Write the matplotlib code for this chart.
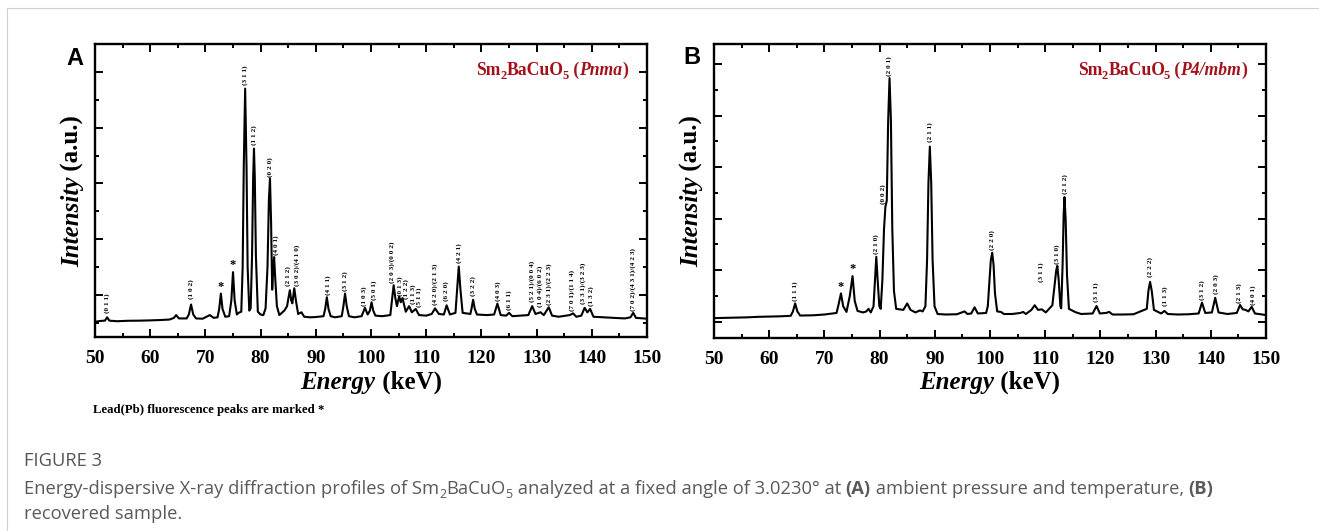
import matplotlib.pyplot as plt
from matplotlib.ticker import MultipleLocator
from matplotlib.transforms import IdentityTransform
from matplotlib.lines import Line2D

# ---- panel A : Sm2BaCuO5 (Pnma), trace ----
a_energy = [50.0, 51.0, 51.8, 52.2, 52.6, 54.0, 56.0, 58.0, 60.0, 62.0,
            63.5, 64.3, 64.7, 65.2, 66.6, 67.0, 67.4, 67.8, 68.3, 69.5,
            70.8, 71.5, 72.2, 72.5, 72.8, 73.1, 73.6, 74.3, 74.7, 75.0,
            75.3, 75.7, 76.0, 76.5, 76.75, 76.95, 77.2, 77.45, 77.65, 77.95,
            78.2, 78.45, 78.65, 78.8, 78.95, 79.15, 79.5, 80.0, 80.5, 80.9,
            81.25, 81.5, 81.7, 81.9, 82.1, 82.3, 82.45, 82.65, 82.95, 83.4,
            84.3, 84.8, 85.05, 85.3, 85.55, 85.75, 86.1, 86.4, 86.8, 87.4,
            87.9, 89.0, 90.0, 91.4, 91.7, 92.0, 92.3, 92.7, 93.5, 94.7,
            95.0, 95.3, 95.6, 96.0, 97.0, 98.3, 98.9, 99.4, 99.8, 100.1,
            100.4, 100.8, 102.0, 103.5, 103.8, 104.1, 104.4, 104.7, 105.1, 105.4,
            105.7, 106.3, 106.9, 107.4, 108.1, 108.7, 110.0, 111.0, 111.6, 112.3,
            113.2, 113.7, 114.3, 115.3, 115.6, 115.9, 116.2, 116.6, 118.0, 118.2,
            118.5, 118.8, 119.2, 121.0, 122.3, 122.9, 123.5, 124.5, 125.0, 125.6,
            128.5, 129.2, 129.8, 130.7, 131.3, 132.2, 132.8, 134.0, 136.0, 136.6,
            137.2, 138.1, 138.7, 139.2, 139.7, 140.3, 142.0, 144.0, 146.0, 147.0,
            147.5, 148.0, 150.0]
a_counts = [520, 535, 540, 600, 540, 530, 538, 540, 545, 552,
            560, 590, 640, 580, 580, 650, 830, 650, 580, 575,
            640, 590, 600, 750, 1025, 750, 610, 620, 900, 1410,
            900, 650, 680, 700, 1500, 3300, 4700, 3300, 1500, 720,
            760, 1700, 3100, 3625, 3100, 1700, 700, 650, 640, 760,
            1500, 2700, 3090, 2300, 1095, 1500, 1680, 1300, 800, 640,
            720, 800, 950, 1085, 900, 850, 1120, 900, 660, 690,
            610, 600, 605, 620, 750, 960, 750, 620, 600, 620,
            800, 1025, 800, 620, 600, 620, 770, 650, 720, 870,
            720, 630, 620, 640, 900, 1175, 950, 800, 975, 870,
            945, 700, 800, 690, 750, 640, 630, 660, 760, 660,
            650, 815, 650, 680, 1100, 1510, 1100, 680, 660, 750,
            915, 750, 650, 640, 650, 845, 640, 630, 680, 620,
            640, 800, 660, 690, 640, 780, 630, 610, 640, 670,
            610, 630, 770, 690, 750, 610, 600, 590, 580, 600,
            680, 590, 575]
a_labels = ["(0 1 1)", "(1 0 2)", "(3 1 1)", "(1 1 2)", "(0 2 0)", "(4 0 1)", "(2 1 2)",
            "(3 0 2)/(4 1 0)", "(4 1 1)", "(3 1 2)", "(1 0 3)", "(5 0 1)", "(2 0 3)/(0 0 2)",
            "(0 1 3)", "(1 2 2)", "(1 1 3)", "(5 1 1)", "(4 2 0)/(2 1 3)", "(6 2 0)", "(4 2 1)",
            "(3 2 2)", "(4 0 3)", "(6 1 1)", "(5 2 1)/(0 0 4)", "(1 0 4)/(6 0 2)",
            "(2 3 1)/(2 2 3)", "(7 0 1)/(1 1 4)", "(3 3 1)/(3 2 3)", "(1 3 2)",
            "(7 0 2)/(4 3 1)/(4 2 3)"]
a_label_e = [52.2, 67.5, 77.2, 78.8, 81.7, 82.9, 84.9, 86.6, 92.2, 95.4, 98.75, 100.5, 103.75,
             105.2, 106.4, 107.6, 108.8, 111.6, 113.6, 115.9, 118.5, 123.1, 125.1, 129.2,
             130.7, 132.2, 136.5, 138.5, 139.8, 147.4]
a_label_i = [680, 930, 4760, 3690, 3120, 1720, 1155, 1155, 1005, 1065, 810, 915, 1215,
             975, 930, 845, 785, 825, 885, 1570, 975, 900, 740, 870, 785, 825, 710, 845,
             800, 710]
a_star_e = [72.7, 74.9]
a_star_i = [1143, 1542]

# ---- panel B : Sm2BaCuO5 (P4/mbm), recovered sample ----
b_energy = [50.0, 52.0, 54.0, 56.0, 58.0, 60.0, 62.0, 63.9, 64.3, 64.7,
            65.1, 65.6, 68.0, 70.0, 71.5, 72.2, 72.6, 73.0, 73.4, 74.0,
            74.6, 75.1, 75.5, 76.0, 77.0, 77.6, 78.0, 78.4, 78.9, 79.15,
            79.4, 79.65, 79.95, 80.2, 80.5, 80.8, 81.05, 81.3, 81.55, 81.8,
            82.05, 82.3, 82.6, 83.0, 84.3, 85.0, 85.6, 86.5, 87.3, 87.8,
            88.3, 88.6, 88.85, 89.1, 89.35, 89.6, 89.95, 90.5, 92.0, 94.0,
            95.4, 95.9, 96.6, 97.2, 97.8, 99.3, 99.6, 99.9, 100.15, 100.4,
            100.65, 100.9, 101.3, 102.0, 102.5, 104.0, 105.5, 106.0, 106.5, 107.5,
            108.1, 108.7, 109.4, 110.1, 111.3, 111.7, 112.0, 112.2, 112.45, 112.75,
            112.9, 113.15, 113.35, 113.5, 113.7, 113.95, 114.3, 115.5, 116.5, 118.6,
            119.3, 119.9, 121.0, 121.6, 122.2, 124.0, 126.0, 128.4, 128.7, 129.0,
            129.3, 129.7, 131.0, 131.6, 132.2, 134.0, 136.0, 137.8, 138.4, 139.0,
            140.2, 140.8, 141.4, 143.0, 144.7, 145.3, 145.8, 146.3, 146.8, 147.4,
            148.0, 150.0]
b_counts = [70, 75, 80, 85, 95, 100, 105, 115, 200, 355,
            200, 120, 125, 140, 160, 170, 350, 550, 300, 190,
            500, 885, 400, 210, 180, 200, 250, 180, 300, 800,
            1260, 800, 300, 250, 800, 1800, 2230, 2350, 3900, 4730,
            3900, 1800, 600, 250, 230, 355, 230, 180, 220, 200,
            300, 1200, 2700, 3400, 2700, 1200, 300, 150, 140, 145,
            200, 150, 160, 280, 160, 170, 300, 800, 1200, 1340,
            1100, 550, 200, 190, 150, 150, 170, 190, 150, 230,
            320, 230, 240, 180, 320, 700, 1000, 1085, 800, 300,
            260, 1100, 2100, 2420, 2000, 900, 250, 185, 150, 160,
            305, 160, 170, 190, 140, 140, 145, 250, 600, 775,
            600, 230, 160, 210, 150, 140, 145, 160, 370, 170,
            180, 465, 180, 150, 170, 325, 240, 230, 200, 290,
            160, 130]
b_labels = ["(1 1 1)", "(2 1 0)", "(0 0 2)", "(2 0 1)", "(2 1 1)", "(2 2 0)", "(3 1 1)",
            "(3 1 0)", "(2 1 2)", "(3 1 1)", "(2 2 2)", "(1 1 3)", "(3 1 2)", "(2 0 3)",
            "(2 1 3)", "(4 0 1)"]
b_label_e = [64.7, 79.4, 80.7, 81.8, 89.1, 100.4, 109.2, 112.2, 113.6, 119.3, 129.0, 131.8,
             138.4, 141.0, 145.1, 147.6]
b_label_i = [400, 1320, 2290, 4775, 3485, 1390, 775, 1130, 2485, 385, 870, 300, 430, 535,
             355, 325]
b_star_e = [73.0, 75.1]
b_star_i = [677, 1032]

x_ticks = [50, 60, 70, 80, 90, 100, 110, 120, 130, 140, 150]

W, H = 1319, 531
SERIF = 'Liberation Serif'
DARKRED = '#A3121B'
GREY = '#5a5a5a'

fig = plt.figure(figsize=(W / 100, H / 100), dpi=100)
renderer = fig.canvas.get_renderer()


def rich(x, y, parts, ha='left', rot=0):
    # chain text pieces; x, y in image pixels (origin top-left)
    items = []
    for s, kw in parts:
        kw = dict(kw)
        dy = kw.pop('dy', 0)
        dx = kw.pop('dx', 0)
        t = fig.text(0, 0, s, transform=IdentityTransform(), rotation=rot,
                     rotation_mode='anchor', ha='left', va='baseline', **kw)
        ext = t.get_window_extent(renderer)
        items.append((t, dx, dy, (ext.width if rot == 0 else ext.height) + dx))
    total = sum(it[3] for it in items)
    if rot == 0:
        pos = {'left': x, 'right': x - total, 'center': x - total / 2}[ha]
        for t, dx, dy, w in items:
            t.set_position((pos + dx, H - y + dy))
            pos += w
    else:
        pos = {'left': H - y, 'center': H - y - total / 2}[ha]
        for t, dx, dy, w in items:
            t.set_position((x - dy, pos + dx))
            pos += w


def panel(rect, energy, counts, ylim, labels, lab_e, lab_i, star_e, star_i):
    ax = fig.add_axes(rect)
    ax.plot(energy, counts, color='black', lw=1.5)
    ax.set_xlim(50, 150)
    ax.set_ylim(*ylim)
    ax.set_xticks(x_ticks)
    ax.set_xticklabels([str(v) for v in x_ticks], fontsize=14, fontweight='bold',
                       family=SERIF)
    ax.xaxis.set_minor_locator(MultipleLocator(5))
    ax.yaxis.set_major_locator(MultipleLocator(1000))
    ax.yaxis.set_minor_locator(MultipleLocator(500))
    ax.tick_params(which='both', direction='in', top=True, right=True, width=1.4,
                   labelleft=False)
    ax.tick_params(which='major', length=5.5, pad=9.5)
    ax.tick_params(which='minor', length=3)
    for sp in ax.spines.values():
        sp.set_linewidth(1.7)
    for s, e, i in zip(labels, lab_e, lab_i):
        ax.text(e, i, s, rotation=90, ha='center', va='bottom', fontsize=5.2,
                fontweight='bold', family=SERIF)
    for e, i in zip(star_e, star_i):
        ax.text(e, i, '*', ha='center', va='center', fontsize=9, fontweight='bold',
                family=SERIF)
    return ax


ax_a = panel([95 / W, 1 - 337 / H, 552 / W, 293 / H], a_energy, a_counts, (247, 5500),
             a_labels, a_label_e, a_label_i, a_star_e, a_star_i)
ax_b = panel([714 / W, 1 - 338 / H, 552 / W, 294 / H], b_energy, b_counts, (-316, 5392),
             b_labels, b_label_e, b_label_i, b_star_e, b_star_i)

bf = dict(family=SERIF, fontweight='bold')
bfi = dict(family=SERIF, fontweight='bold', style='italic')

for x0, x1, name, sg in [(95, 647, 'A', 'Pnma'), (714, 1266, 'B', 'P4/mbm')]:
    # axis labels
    rich((x0 + x1) / 2, 389, [('Energy', dict(bfi, size=18)), (' (keV)', dict(bf, size=18))],
         ha='center')
    rich(x0 - 16, 191, [('Intensity', dict(bfi, size=18)), (' (a.u.)', dict(bf, size=18))],
         ha='center', rot=90)
    # phase name inside the panel
    c = dict(bf, size=12.7, color=DARKRED)
    rich(x1 - 19, 75, [('Sm', c), ('2', dict(c, size=9, dy=-4)), ('BaCuO', c),
                       ('5', dict(c, size=9, dy=-4, dx=-1.5)), (' (', c),
                       (sg, dict(c, style='italic')), (')', c)], ha='right')

fig.text(66 / W, 1 - 65 / H, 'A', family='Liberation Sans', fontweight='bold', size=17,
         va='baseline')
fig.text(683 / W, 1 - 64 / H, 'B', family='Liberation Sans', fontweight='bold', size=17,
         va='baseline')

rich(93, 413, [('Lead(Pb) fluorescence peaks are marked *', dict(bf, size=9.2))])

# caption block
cap = dict(family='Open Sans', size=13.2, color=GREY)
capb = dict(cap, fontweight='bold')
capsub = dict(cap, size=9, dy=-3.5)
rich(24, 466, [('FIGURE 3', dict(cap, color='#555555'))])
rich(24, 494, [('Energy-dispersive X-ray diffraction profiles of Sm', cap), ('2', capsub),
               ('BaCuO', cap), ('5', capsub),
               (' analyzed at a fixed angle of 3.0230\u00b0 at ', cap), ('(A)', capb),
               (' ambient pressure and temperature, ', cap), ('(B)', capb)])
rich(24, 519, [('recovered sample.', cap)])

# thin page frame of the source figure
fig.add_artist(Line2D([7 / W, 7 / W], [0, 1 - 8 / H], color='#d0d0d0', lw=0.8))
fig.add_artist(Line2D([7 / W, 1], [1 - 8 / H, 1 - 8 / H], color='#d0d0d0', lw=0.8))

fig.savefig('out.png', dpi=100)
